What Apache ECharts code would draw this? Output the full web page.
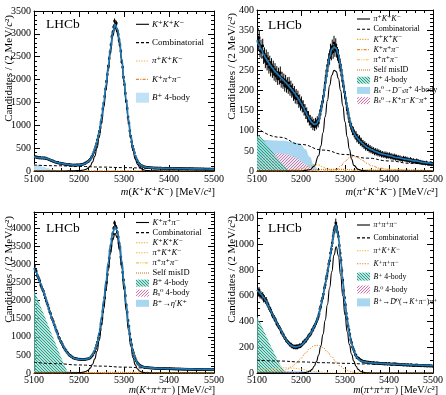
<!DOCTYPE html>
<html><head><meta charset="utf-8">
<script src="https://cdn.jsdelivr.net/npm/echarts@6/dist/echarts.min.js"></script>
<style>html,body{margin:0;padding:0;background:#fff}#c{width:446px;height:395px}</style>
</head><body><div id="c"></div>
<script>
// ---------- DATA ----------
const xTicks = [5100, 5200, 5300, 5400, 5500];
// data counts, 2 MeV bins from 5100 to 5500 (centres 5101 ... 5499)
const dataKKK = [318,301,312,290,296, 284,297,281,290,279, 291,276,288,270,268, 262,251,244,238,221, 226,209,204,196,191,
 184,189,171,176,166, 170,155,161,149,153, 141,147,135,144,131, 139,128,134,125,133, 124,135,127,138,130,
 129,140,137,148,146, 158,163,176,188,201, 212,236,258,290,322, 360,410,466,530,598, 682,760,862,950,1070,
 1210,1360,1480,1630,1790, 1960,2110,2290,2460,2600, 2760,2940,3030,3150,3280, 3190,3230,3060,2990,2870, 2760,2620,2390,2270,2050,
 1890,1700,1530,1370,1180, 1050,880,760,640,540, 470,400,320,270,230, 200,168,150,124,118, 108,96,94,83,86,
 74,81,70,75,68, 71,64,69,62,67, 60,68,63,58,65, 66,57,62,59,61, 55,63,57,60,54,
 59,52,61,55,57, 50,58,53,56,51, 55,49,57,51,53, 48,54,50,47,52, 51,46,49,53,45,
 47,50,44,48,46, 43,49,45,42,47, 46,41,44,47,42, 40,45,42,39,44, 43,38,41,44,39];
const dataPiKK = [352,318,331,299,309, 296,311,283,290,272, 285,266,279,258,270, 251,264,247,258,240, 252,236,245,229,241,
 230,244,222,231,219, 227,212,224,209,218, 206,219,201,210,196, 203,188,197,181,190, 179,186,170,177,163,
 172,158,163,150,154, 141,146,132,137,124, 128,118,124,112,119, 110,121,114,125,119, 129,141,150,162,171,
 186,201,219,236,249, 262,276,281,299,292, 309,296,318,301,312, 299,291,286,271,263, 251,238,223,210,196,
 181,168,152,145,131, 122,113,109,99,100, 93,88,90,80,83, 76,80,71,74,67, 69,63,66,58,62,
 57,60,53,57,51, 54,49,52,46,50, 45,49,43,47,42, 45,40,43,39,42, 38,42,36,40,37,
 40,35,38,34,37, 33,37,31,35,32, 34,30,33,29,31, 28,32,29,31,27, 30,26,28,25,29,
 26,24,27,23,25, 22,26,23,24,21, 23,20,22,19,21, 20,18,21,19,17, 19,17,20,16,18];
const dataKpipi = [2950,2840,2810,2700,2650, 2600,2540,2430,2370,2310, 2260,2170,2080,2000,1930, 1870,1780,1690,1640,1530, 1480,1420,1330,1270,1190,
 1140,1080,990,950,880, 840,790,730,690,650, 620,580,555,520,490, 478,452,440,418,410, 402,391,396,380,385,
 372,384,366,379,370, 381,369,385,383,392, 390,410,418,447,476, 510,560,600,680,760, 850,960,1070,1200,1360,
 1510,1700,1880,2080,2300, 2500,2720,2950,3170,3380, 3520,3700,3850,4000,4150, 4060,4010,3890,3760,3590, 3470,3200,3020,2780,2570,
 2360,2140,1880,1680,1450, 1290,1080,920,780,640, 560,470,400,340,290, 262,235,210,198,185, 172,165,160,152,150,
 146,148,140,143,138, 136,140,132,135,129, 131,126,133,124,128, 122,129,120,126,118, 124,117,121,114,120,
 115,121,112,118,110, 116,109,114,107,113, 108,114,106,111,104, 110,103,108,101,107, 104,99,106,100,103,
 97,104,99,95,101, 99,94,100,93,97, 95,91,98,92,94, 90,96,89,94,91, 93,87,92,88,95];
const dataPipipi = [655,618,640,602,611, 596,604,572,580,561, 566,540,531,512,497, 489,470,449,441,428, 415,405,382,378,360,
 352,340,318,313,297, 289,272,266,249,246, 235,231,218,222,207, 211,199,206,197,209, 196,210,203,216,208,
 219,222,238,236,251, 249,265,270,288,291, 302,310,331,336,356, 364,381,398,415,434, 458,497,516,558,580,
 612,660,684,731,755, 795,846,872,931,962, 1010,1062,1105,1118,1165, 1135,1095,1060,990,930, 875,795,720,640,585,
 530,462,420,365,334, 300,258,236,201,186, 168,145,137,120,117, 114,106,101,98,93, 91,86,89,83,86,
 82,85,79,83,78, 80,76,81,74,78, 75,79,73,77,72, 76,71,74,70,73, 69,74,71,68,72,
 73,67,70,66,71, 68,72,66,70,65, 69,64,67,63,68, 65,61,66,62,64, 60,65,62,59,63,
 64,58,61,57,62, 59,63,57,61,56, 60,55,59,56,58, 54,59,56,53,57, 58,53,56,55,52];

// fitted components, [mass, candidates]
const kkkTotal = [[5100,310],[5105,300],[5110,292],[5115,288],[5120,285],[5125,282],[5130,270],[5135,250],[5140,225],[5145,205],[5150,190],[5155,178],[5160,168],[5165,158],[5170,150],[5175,143],[5180,137],[5185,132],[5190,130],[5195,130],[5200,132],[5205,138],[5210,150],[5215,170],[5220,205],[5225,260],[5230,345],[5235,470],[5240,640],[5245,870],[5250,1160],[5255,1500],[5260,1880],[5265,2280],[5270,2680],[5275,3020],[5280,3200],[5285,3120],[5290,2850],[5295,2450],[5300,2000],[5305,1550],[5310,1130],[5315,780],[5320,510],[5325,330],[5330,215],[5335,150],[5340,112],[5345,92],[5350,80],[5355,74],[5360,70],[5370,66],[5380,63],[5390,60],[5400,58],[5420,54],[5440,50],[5460,47],[5480,44],[5500,41]];
const kkkSignal = [[5100,0],[5150,1],[5180,2],[5190,5],[5200,10],[5205,14],[5210,22],[5215,36],[5220,62],[5225,110],[5230,195],[5235,320],[5240,500],[5245,740],[5250,1040],[5255,1390],[5260,1780],[5265,2190],[5270,2600],[5275,2950],[5280,3130],[5285,3050],[5290,2780],[5295,2380],[5300,1930],[5305,1480],[5310,1060],[5315,710],[5320,440],[5325,260],[5330,145],[5335,80],[5340,42],[5345,22],[5350,12],[5360,4],[5380,1],[5400,0],[5500,0]];
const kkkComb = [[5100,130],[5150,115],[5200,100],[5250,86],[5300,74],[5350,63],[5400,54],[5450,46],[5500,39]];
const kkkFourBody = [[5100,145],[5110,125],[5120,95],[5130,65],[5140,35],[5150,12],[5160,0]];
const kkkPiKK = [[5100,2],[5250,3],[5290,6],[5310,10],[5330,12],[5350,10],[5380,6],[5420,3],[5500,1]];
const kkkKpipi = [[5100,1],[5300,2],[5350,4],[5380,5],[5420,4],[5500,2]];

const pikkTotal = [[5100,325],[5105,313],[5110,301],[5115,290],[5120,280],[5125,271],[5130,263],[5135,256],[5140,249],[5145,243],[5150,237],[5155,231],[5160,226],[5165,220],[5170,214],[5175,208],[5180,201],[5185,194],[5190,186],[5195,178],[5200,169],[5205,159],[5210,148],[5215,137],[5220,127],[5225,120],[5230,116],[5235,117],[5240,126],[5245,148],[5250,178],[5255,215],[5260,253],[5265,284],[5270,302],[5275,308],[5280,305],[5285,290],[5290,262],[5295,226],[5300,190],[5305,160],[5310,128],[5315,108],[5320,95],[5325,86],[5330,79],[5335,73],[5340,68],[5345,63],[5350,59],[5355,56],[5360,53],[5370,48],[5380,44],[5390,41],[5400,38],[5420,33],[5440,29],[5460,25],[5480,21],[5500,18]];
const pikkSignal = [[5100,0],[5200,0],[5220,3],[5230,12],[5240,38],[5245,62],[5250,95],[5255,135],[5260,175],[5265,212],[5270,238],[5275,250],[5280,247],[5285,230],[5290,200],[5295,162],[5300,122],[5305,85],[5310,54],[5315,30],[5320,14],[5330,4],[5340,1],[5360,0],[5500,0]];
const pikkComb = [[5100,108],[5150,84],[5200,66],[5250,52],[5300,41],[5350,32],[5400,25],[5450,19],[5500,15]];
const pikkFourBody = [[5100,85],[5104,90],[5110,83],[5120,69],[5130,55],[5140,41],[5150,27],[5160,14],[5170,4],[5176,0]];
const pikkDsPi = [[5100,78],[5120,77],[5140,76],[5160,75],[5180,72],[5190,70],[5200,65],[5210,54],[5220,35],[5230,14],[5238,0]];
const pikkKpiKpi = [[5100,20],[5110,32],[5120,40],[5130,43],[5140,44],[5150,44],[5160,43],[5170,41],[5180,37],[5190,32],[5200,25],[5210,17],[5220,9],[5230,3],[5240,0]];
const pikkKKK = [[5100,0],[5150,0],[5180,2],[5200,6],[5210,9],[5220,13],[5230,16],[5240,15],[5250,10],[5260,5],[5270,2],[5290,0],[5500,0]];
const pikkKpipi = [[5100,0],[5260,0],[5280,3],[5290,12],[5300,24],[5310,33],[5320,36],[5330,33],[5340,26],[5350,19],[5360,13],[5380,7],[5400,4],[5450,2],[5500,1]];
const pikkPipipi = [[5100,0],[5300,0],[5330,2],[5360,4],[5380,5],[5400,4],[5450,2],[5500,1]];
const pikkSelf = [[5100,1],[5200,2],[5260,4],[5290,4],[5340,2],[5500,1]];

const kpipiTotal = [[5100,2900],[5105,2780],[5110,2630],[5115,2470],[5120,2290],[5125,2100],[5130,1900],[5135,1700],[5140,1500],[5145,1320],[5150,1150],[5155,1000],[5160,860],[5165,735],[5170,630],[5175,545],[5180,480],[5185,435],[5190,405],[5195,388],[5200,378],[5205,374],[5210,374],[5215,379],[5220,394],[5225,428],[5230,500],[5235,620],[5240,820],[5245,1120],[5250,1520],[5255,2000],[5260,2520],[5265,3050],[5270,3520],[5275,3880],[5280,4030],[5285,3930],[5290,3600],[5295,3100],[5300,2500],[5305,1900],[5310,1350],[5315,900],[5320,580],[5325,380],[5330,265],[5335,205],[5340,175],[5345,160],[5350,150],[5360,140],[5370,133],[5380,128],[5390,124],[5400,120],[5420,114],[5440,109],[5460,104],[5480,99],[5500,95]];
const kpipiSignal = [[5100,0],[5150,0],[5180,3],[5190,5],[5200,10],[5205,15],[5210,25],[5215,42],[5220,75],[5225,135],[5230,240],[5235,390],[5240,600],[5245,900],[5250,1300],[5255,1780],[5260,2290],[5265,2820],[5270,3300],[5275,3680],[5280,3860],[5285,3740],[5290,3400],[5295,2900],[5300,2300],[5305,1720],[5310,1180],[5315,740],[5320,420],[5325,225],[5330,110],[5335,55],[5340,25],[5345,12],[5350,6],[5360,2],[5380,0],[5500,0]];
const kpipiComb = [[5100,298],[5150,258],[5200,222],[5250,190],[5300,162],[5350,138],[5400,115],[5450,102],[5500,90]];
const kpipiFourBody = [[5100,2300],[5110,1990],[5120,1680],[5130,1370],[5140,1060],[5150,750],[5160,440],[5170,150],[5176,0]];
const kpipiBs4 = [[5100,40],[5140,40],[5180,30],[5210,15],[5240,0]];
const kpipiEtaK = [[5100,60],[5150,55],[5190,35],[5220,10],[5240,0]];
const kpipiKKK = [[5100,12],[5140,18],[5180,20],[5210,15],[5240,6],[5270,1],[5300,0],[5500,0]];
const kpipiPiKK = [[5100,6],[5200,10],[5250,12],[5290,10],[5340,4],[5400,1],[5500,0]];
const kpipiPipipi = [[5100,0],[5250,0],[5280,3],[5300,14],[5320,26],[5340,24],[5370,12],[5400,6],[5450,2],[5500,1]];
const kpipiSelf = [[5100,1],[5150,2],[5220,8],[5260,16],[5280,20],[5300,16],[5340,7],[5400,3],[5500,1]];

const pipipiTotal = [[5100,645],[5105,628],[5110,608],[5115,586],[5120,562],[5125,525],[5130,490],[5135,455],[5140,422],[5145,390],[5150,358],[5155,325],[5160,292],[5165,263],[5170,238],[5175,220],[5180,209],[5185,203],[5190,203],[5195,207],[5200,215],[5205,230],[5210,250],[5215,272],[5220,298],[5225,325],[5230,360],[5235,400],[5240,450],[5245,520],[5250,600],[5255,690],[5260,780],[5265,880],[5270,990],[5275,1100],[5280,1140],[5285,1060],[5290,890],[5295,710],[5300,550],[5305,415],[5310,310],[5315,230],[5320,172],[5325,133],[5330,110],[5335,97],[5340,90],[5345,86],[5350,83],[5360,79],[5370,76],[5380,74],[5390,72],[5400,71],[5420,68],[5440,65],[5460,62],[5480,59],[5500,57]];
const pipipiSignal = [[5100,0],[5190,0],[5200,1],[5210,4],[5215,8],[5220,15],[5225,28],[5230,52],[5235,88],[5240,140],[5245,210],[5250,300],[5255,410],[5260,530],[5265,660],[5270,787],[5275,915],[5280,980],[5285,910],[5290,760],[5295,600],[5300,450],[5305,320],[5310,220],[5315,145],[5320,92],[5325,52],[5330,28],[5335,14],[5340,7],[5350,2],[5360,0],[5500,0]];
const pipipiComb = [[5100,100],[5150,93],[5200,86],[5250,80],[5300,75],[5350,70],[5400,66],[5450,61],[5500,57]];
const pipipiKpipi = [[5100,3],[5120,6],[5140,10],[5150,14],[5160,20],[5170,32],[5180,52],[5190,80],[5200,115],[5210,155],[5220,190],[5230,212],[5240,215],[5250,198],[5260,165],[5270,125],[5280,85],[5290,52],[5300,28],[5310,14],[5320,6],[5330,2],[5340,0],[5500,0]];
const pipipiPiKK = [[5100,20],[5120,28],[5140,35],[5160,40],[5180,38],[5200,30],[5220,18],[5240,8],[5260,3],[5280,1],[5300,0],[5500,0]];
const pipipiFourBody = [[5100,440],[5110,370],[5120,295],[5130,220],[5140,150],[5150,80],[5160,25],[5165,0]];
const pipipiBs4 = [[5100,12],[5150,12],[5200,8],[5230,0]];
const pipipiD0 = [[5100,16],[5150,15],[5200,13],[5230,9],[5250,4],[5265,0]];

// ---------- STYLE ----------
const FONT = '"Liberation Serif","DejaVu Serif",serif';
const bins = []; for (let i = 0; i < 200; i++) bins.push(5101 + 2 * i);

function hatch(color, dir, period, lw, bg) {
  const c = document.createElement('canvas'); c.width = c.height = period;
  const g = c.getContext('2d');
  if (bg) { g.fillStyle = bg; g.fillRect(0, 0, period, period); }
  g.strokeStyle = color; g.lineWidth = lw; g.beginPath();
  const p = period;
  if (dir > 0) { g.moveTo(-1, p + 1); g.lineTo(p + 1, -1); g.moveTo(-1, 1); g.lineTo(1, -1); g.moveTo(p - 1, p + 1); g.lineTo(p + 1, p - 1); }
  else { g.moveTo(-1, -1); g.lineTo(p + 1, p + 1); g.moveTo(-1, p - 1); g.lineTo(1, p + 1); g.moveTo(p - 1, -1); g.lineTo(p + 1, 1); }
  g.stroke();
  return { image: c, repeat: 'repeat' };
}
const TEAL = hatch('#1a9f86', -1, 3, 1.15, 'rgba(255,255,255,0.55)');
const PINK = hatch('#cf79a8', 1, 3, 1.0, 'rgba(255,240,246,0.7)');
const LBLUE = '#a9d7f1';
const LBLUE1 = '#bfe2f6';

const ST = {
  sig: { color: '#000', width: 1.1, dash: 'solid' },
  comb: { color: '#000', width: 1, dash: [3, 2] },
  KKK: { color: '#f4a62a', width: 1, dash: [1.3, 1.3] },
  piKK: { color: '#f0b23a', width: 1, dash: [1.3, 1.3] },
  Kpipi: { color: '#e8892b', width: 1, dash: [3, 1.3, 1, 1.3] },
  Kpipi4: { color: '#e8892b', width: 1, dash: [1.3, 1.3] },
  pipipi: { color: '#f4c04a', width: 1, dash: [3, 1.2, 1, 1.2, 1, 1.2] },
  self: { color: '#d9741f', width: 1.1, dash: [1, 1] },
  total: { color: '#1f78b4', width: 1.7, dash: 'solid' }
};

const grids = [
  { left: 34, top: 11, width: 180, height: 160 },
  { left: 257, top: 10, width: 180, height: 161 },
  { left: 34, top: 212, width: 180, height: 161 },
  { left: 257, top: 212, width: 180, height: 161 }
];
const yMax = [3500, 400, 4450, 1250];
const yInt = [500, 50, 500, 200];
const yMinor = [5, 5, 5, 4];

const xAxes = [], yAxes = [];
grids.forEach((g, i) => {
  const common = {
    gridIndex: i, type: 'value', min: 5100, max: 5500, interval: 100,
    axisLine: { show: true, onZero: false, lineStyle: { color: '#000', width: 1 } },
    axisTick: { show: true, inside: true, length: 6, lineStyle: { color: '#000', width: 1 } },
    minorTick: { show: true, splitNumber: 5, length: 3, lineStyle: { color: '#000', width: 1 } },
    splitLine: { show: false }, minorSplitLine: { show: false }
  };
  xAxes.push(Object.assign({}, common, { position: 'bottom',
    axisLabel: { show: true, fontFamily: FONT, fontSize: 10, color: '#000', margin: i < 2 ? 3 : 2, formatter: v => String(v) } }));
  xAxes.push(Object.assign({}, common, { position: 'top', axisLabel: { show: false } }));
  const yc = {
    gridIndex: i, type: 'value', min: 0, max: yMax[i], interval: yInt[i],
    axisLine: { show: true, onZero: false, lineStyle: { color: '#000', width: 1 } },
    axisTick: { show: true, inside: true, length: 6, lineStyle: { color: '#000', width: 1 } },
    minorTick: { show: true, splitNumber: yMinor[i], length: 3, lineStyle: { color: '#000', width: 1 } },
    splitLine: { show: false }, minorSplitLine: { show: false }
  };
  yAxes.push(Object.assign({}, yc, { position: 'left',
    axisLabel: { show: true, fontFamily: FONT, fontSize: 10, color: '#000', margin: 3, formatter: v => String(v),
      showMaxLabel: (i < 2) } }));
  yAxes.push(Object.assign({}, yc, { position: 'right', axisLabel: { show: false } }));
});

const series = [];
function lineS(g, data, st, z) {
  series.push({ type: 'line', xAxisIndex: 2 * g, yAxisIndex: 2 * g, data, symbol: 'none', showSymbol: false,
    smooth: true, smoothMonotone: 'x', lineStyle: { color: st.color, width: st.width, type: st.dash }, z: z || 4,
    silent: true, animation: false });
}
function areaS(g, data, fill, z, smooth) {
  series.push({ type: 'line', xAxisIndex: 2 * g, yAxisIndex: 2 * g, data, symbol: 'none', showSymbol: false,
    smooth: smooth ? true : false, smoothMonotone: 'x', lineStyle: { width: 0, opacity: 0 },
    areaStyle: { color: fill, opacity: 1 }, z: z || 2, silent: true, animation: false });
}
function dataS(g, vals) {
  series.push({ type: 'custom', xAxisIndex: 2 * g, yAxisIndex: 2 * g, clip: true, z: 6, silent: true, animation: false,
    encode: { x: 0, y: 1 },
    data: vals.map((v, k) => [bins[k], v, Math.sqrt(v)]),
    renderItem: function (params, api) {
      const x = api.value(0), y = api.value(1), e = api.value(2);
      const p = api.coord([x, y]), hi = api.coord([x, y + e]), lo = api.coord([x, y - e]);
      return { type: 'group', children: [
        { type: 'line', shape: { x1: p[0], y1: hi[1], x2: p[0], y2: lo[1] }, style: { stroke: '#000', lineWidth: 1 } },
        { type: 'rect', shape: { x: p[0] - 1.2, y: p[1] - 1.2, width: 2.4, height: 2.4 }, style: { fill: '#000' } }
      ] };
    } });
}

// panel 0: K+K+K-
areaS(0, kkkFourBody, LBLUE1, 2, true);
lineS(0, kkkComb, ST.comb);
lineS(0, kkkPiKK, ST.piKK);
lineS(0, kkkKpipi, ST.Kpipi);
dataS(0, dataKKK);
lineS(0, kkkSignal, ST.sig, 7);
lineS(0, kkkTotal, ST.total, 8);
// panel 1: pi+K+K-
areaS(1, pikkDsPi, LBLUE, 1, true);
areaS(1, pikkKpiKpi, PINK, 2, true);
areaS(1, pikkFourBody, TEAL, 3, false);
lineS(1, pikkComb, ST.comb);
lineS(1, pikkKKK, ST.KKK);
lineS(1, pikkKpipi, ST.Kpipi);
lineS(1, pikkPipipi, ST.pipipi);
lineS(1, pikkSelf, ST.self);
dataS(1, dataPiKK);
lineS(1, pikkSignal, ST.sig, 7);
lineS(1, pikkTotal, ST.total, 8);
// panel 2: K+pi+pi-
areaS(2, kpipiEtaK, LBLUE, 1, true);
areaS(2, kpipiBs4, PINK, 2, true);
areaS(2, kpipiFourBody, TEAL, 3, false);
lineS(2, kpipiComb, ST.comb);
lineS(2, kpipiKKK, ST.KKK);
lineS(2, kpipiPiKK, ST.piKK);
lineS(2, kpipiPipipi, ST.pipipi);
lineS(2, kpipiSelf, ST.self);
dataS(2, dataKpipi);
lineS(2, kpipiSignal, ST.sig, 7);
lineS(2, kpipiTotal, ST.total, 8);
// panel 3: pi+pi+pi-
areaS(3, pipipiD0, LBLUE, 1, true);
areaS(3, pipipiBs4, PINK, 2, true);
areaS(3, pipipiFourBody, TEAL, 3, false);
lineS(3, pipipiComb, ST.comb);
lineS(3, pipipiPiKK, ST.piKK);
lineS(3, pipipiKpipi, ST.Kpipi4);
dataS(3, dataPipipi);
lineS(3, pipipiSignal, ST.sig, 7);
lineS(3, pipipiTotal, ST.total, 8);

// ---------- TEXT / LEGENDS ----------
function RICH(fs) {
  return { i: { fontStyle: 'italic', fontSize: fs, fontFamily: FONT, fill: '#000' },
           b: { fontStyle: 'italic', fontSize: Math.round(fs * 0.7), fontFamily: FONT, fill: '#000', verticalAlign: 'bottom' } };
}
function txt(x, y, s, fs, align, rot) {
  return { type: 'text', x: x, y: y, rotation: rot || 0, z: 100, silent: true,
    style: { text: s, fontFamily: FONT, fontSize: fs, fill: '#000', align: align || 'left', verticalAlign: 'middle',
      textAlign: align || 'left', textVerticalAlign: 'middle', rich: RICH(fs) } };
}
const graphics = [];
function legend(cfg) {
  cfg.items.forEach((it, k) => {
    const y = cfg.y0 + k * cfg.dy;
    if (it.fill) {
      graphics.push({ type: 'rect', z: 100, silent: true, shape: { x: cfg.sx, y: y - cfg.bh / 2, width: cfg.sw, height: cfg.bh }, style: { fill: it.fill } });
    } else {
      graphics.push({ type: 'line', z: 100, silent: true, shape: { x1: cfg.sx, y1: y, x2: cfg.sx + cfg.sw, y2: y },
        style: { stroke: it.st.color, lineWidth: Math.max(it.st.width, 1.1), lineDash: Array.isArray(it.st.dash) ? it.st.dash : null } });
    }
    graphics.push(txt(cfg.tx, y, it.t, cfg.fs));
  });
}
const T = {
  KKK: '{i|K}⁺{i|K}⁺{i|K}⁻', piKK: '{i|π}⁺{i|K}⁺{i|K}⁻', Kpipi: '{i|K}⁺{i|π}⁺{i|π}⁻', pipipi: '{i|π}⁺{i|π}⁺{i|π}⁻',
  comb: 'Combinatorial', self: 'Self misID', b4: '{i|B}⁺ 4-body', bs4: '{i|B}{b|s}⁰ 4-body',
  dspi: '{i|B}{b|s}⁰→{i|D}⁻{b|s}{i|π}⁺ 4-body', kpikpi: '{i|B}{b|s}⁰→{i|K}⁺{i|π}⁻{i|K}⁻{i|π}⁺',
  etak: '{i|B}⁺→{i|η}′{i|K}⁺', d0pi: '{i|B}⁺→{i|D}\u0304⁰(→{i|K}⁺{i|π}⁻){i|π}⁺'
};
legend({ sx: 136, sw: 13, tx: 152, y0: 24.3, dy: 18.35, fs: 9, bh: 10, items: [
  { t: T.KKK, st: ST.sig }, { t: T.comb, st: ST.comb }, { t: T.piKK, st: ST.piKK }, { t: T.Kpipi, st: ST.Kpipi }, { t: T.b4, fill: LBLUE1 } ] });
legend({ sx: 357, sw: 13, tx: 373.5, y0: 19, dy: 10.2, fs: 8, bh: 7, items: [
  { t: T.piKK, st: ST.sig }, { t: T.comb, st: ST.comb }, { t: T.KKK, st: ST.KKK }, { t: T.Kpipi, st: ST.Kpipi },
  { t: T.pipipi, st: ST.pipipi }, { t: T.self, st: ST.self }, { t: T.b4, fill: TEAL }, { t: T.dspi, fill: LBLUE }, { t: T.kpikpi, fill: PINK } ] });
legend({ sx: 136, sw: 13, tx: 152.5, y0: 222.5, dy: 10.1, fs: 8.5, bh: 7, items: [
  { t: T.Kpipi, st: ST.sig }, { t: T.comb, st: ST.comb }, { t: T.KKK, st: ST.KKK }, { t: T.piKK, st: ST.piKK },
  { t: T.pipipi, st: ST.pipipi }, { t: T.self, st: ST.self }, { t: T.b4, fill: TEAL }, { t: T.bs4, fill: PINK }, { t: T.etak, fill: LBLUE } ] });
legend({ sx: 357, sw: 13, tx: 373.5, y0: 225, dy: 12.9, fs: 7.8, bh: 8, items: [
  { t: T.pipipi, st: ST.sig }, { t: T.comb, st: ST.comb }, { t: T.piKK, st: ST.piKK }, { t: T.Kpipi, st: ST.Kpipi4 },
  { t: T.b4, fill: TEAL }, { t: T.bs4, fill: PINK }, { t: T.d0pi, fill: LBLUE } ] });

// LHCb labels
graphics.push(txt(46, 24.5, 'LHCb', 13.5));
graphics.push(txt(268, 25, 'LHCb', 13.5));
graphics.push(txt(46, 228, 'LHCb', 13.5));
graphics.push(txt(268, 228.5, 'LHCb', 13.5));
// axis titles
const yTitle = 'Candidates / (2 MeV/{i|c}²)';
graphics.push(txt(9, 15, yTitle, 11, 'right', Math.PI / 2));
graphics.push(txt(232, 13, yTitle, 11, 'right', Math.PI / 2));
graphics.push(txt(9, 216, yTitle, 11, 'right', Math.PI / 2));
graphics.push(txt(232, 216, yTitle, 11, 'right', Math.PI / 2));
graphics.push(txt(215, 192, '{i|m}({i|K}⁺{i|K}⁺{i|K}⁻) [MeV/{i|c}²]', 10.5, 'right'));
graphics.push(txt(438, 192, '{i|m}({i|π}⁺{i|K}⁺{i|K}⁻) [MeV/{i|c}²]', 10.5, 'right'));
graphics.push(txt(215, 390.5, '{i|m}({i|K}⁺{i|π}⁺{i|π}⁻) [MeV/{i|c}²]', 10, 'right'));
graphics.push(txt(438, 390.5, '{i|m}({i|π}⁺{i|π}⁺{i|π}⁻) [MeV/{i|c}²]', 10, 'right'));

const chart = echarts.init(document.getElementById('c'), null, { renderer: 'canvas', width: 446, height: 395 });
chart.setOption({
  animation: false, backgroundColor: '#fff',
  grid: grids.map(g => Object.assign({ containLabel: false, show: false }, g)),
  xAxis: xAxes, yAxis: yAxes, series: series, graphic: { elements: graphics }
});
</script></body></html>
